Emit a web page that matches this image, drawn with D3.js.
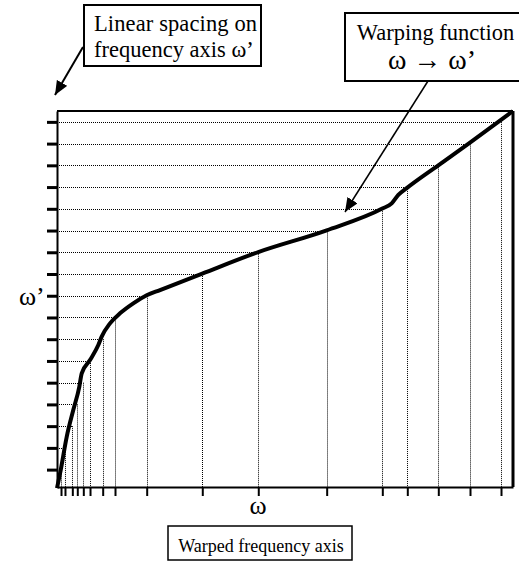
<!DOCTYPE html>
<html>
<head>
<meta charset="utf-8">
<script src="https://cdn.jsdelivr.net/npm/d3@7"></script>
<style>
  html, body { margin: 0; padding: 0; background: #fff; }
  svg { display: block; }
  text { font-family: "Liberation Serif", "Times New Roman", serif; fill: #000; }
</style>
</head>
<body>
<svg id="chart" width="519" height="564"></svg>
<script>
// ---- data ----
// linear levels on the ω' axis
const omegaPrimeLevels = [0, 1, 2, 3, 4, 5, 6, 7, 8, 9, 10, 11, 12, 13, 14, 15, 16];
// where each level lands on the warped ω axis
const warpedTicks = [0.88, 1.75, 3.36, 4.45, 5.77, 7.24, 10.02, 12.72, 19.67, 31.86, 44.14, 59.14, 71.34, 76.82, 83.62, 90.57, 97.37];
// warping function ω -> ω'
const curveOmega      = [0, 0.81, 2.13, 3.57, 4.89, 5.42, 7.24, 9.06, 9.80, 11.62, 13.82, 16.73, 19.67, 22.59, 31.86, 44.14, 59.14, 71.34, 73.40, 74.85, 76.69, 83.62, 90.57, 100];
const curveOmegaPrime = [-0.85, -0.02, 1.51, 2.74, 3.81, 4.43, 5.04, 5.73, 6.12, 6.73, 7.19, 7.65, 8.02, 8.26, 9.02, 10.01, 11.01, 12.01, 12.25, 12.64, 12.95, 14.0, 15.05, 16.5];
const omegaDomain = [0, 100];
const omegaPrimeDomain = [-0.8, 16.5];
const labels = {
  yAxis: "ω’",
  xAxis: "ω",
  linearBox: ["Linear spacing on", "frequency axis ω’"],
  warpBox: ["Warping function", "ω → ω’"],
  warpedBox: "Warped frequency axis"
};

// ---- drawing ----
const svg = d3.select("#chart");
const x = d3.scaleLinear().domain(omegaDomain).range([57, 513]);
const y = d3.scaleLinear().domain(omegaPrimeDomain).range([487, 111]);
const [x0, x1] = x.range();
const [y0, y1] = y.range();

const defs = svg.append("defs");
defs.append("marker")
  .attr("id", "arrow").attr("viewBox", "0 0 14 12")
  .attr("refX", 14).attr("refY", 6)
  .attr("markerWidth", 14).attr("markerHeight", 12)
  .attr("markerUnits", "userSpaceOnUse")
  .attr("orient", "auto")
  .append("path").attr("d", "M0,0 L14,6 L0,12 Z").attr("fill", "#000");

// dotted guides
const guides = svg.append("g").attr("stroke", "#000").attr("stroke-width", 1).attr("stroke-dasharray", "1,1");
omegaPrimeLevels.forEach((lv, i) => {
  guides.append("line")
    .attr("x1", x0).attr("x2", x(warpedTicks[i]))
    .attr("y1", Math.round(y(lv)) + 0.5).attr("y2", Math.round(y(lv)) + 0.5);
  guides.append("line")
    .attr("x1", Math.round(x(warpedTicks[i])) + 0.5).attr("x2", Math.round(x(warpedTicks[i])) + 0.5)
    .attr("y1", y(lv)).attr("y2", y0);
});

// frame (top + right)
svg.append("line").attr("x1", x0).attr("x2", x1).attr("y1", y1).attr("y2", y1)
  .attr("stroke", "#000").attr("stroke-width", 2);
svg.append("line").attr("x1", x1).attr("x2", x1).attr("y1", y1).attr("y2", y0)
  .attr("stroke", "#000").attr("stroke-width", 3);

// axes
const yAxis = d3.axisLeft(y).tickValues(omegaPrimeLevels).tickSize(10).tickSizeOuter(0).tickFormat("");
const gy = svg.append("g").attr("transform", `translate(${x0},0)`).call(yAxis);
gy.select(".domain").attr("stroke-width", 2);
gy.selectAll(".tick line").attr("stroke-width", 3);

const xAxis = d3.axisBottom(x).tickValues(warpedTicks).tickSize(9).tickSizeOuter(0).tickFormat("");
const gx = svg.append("g").attr("transform", `translate(0,${y0})`).call(xAxis);
gx.select(".domain").attr("stroke-width", 2);
gx.selectAll(".tick line").attr("stroke-width", 2);

// warping curve
const pts = curveOmega.map((w, i) => [w, curveOmegaPrime[i]]);
svg.append("path")
  .datum(pts)
  .attr("fill", "none").attr("stroke", "#000").attr("stroke-width", 4)
  .attr("stroke-linejoin", "round").attr("stroke-linecap", "butt")
  .attr("d", d3.line().x(d => x(d[0])).y(d => y(d[1])).curve(d3.curveMonotoneX));

// axis labels
svg.append("text").attr("x", 19).attr("y", 305).attr("font-size", 26).text(labels.yAxis);
svg.append("text").attr("x", 258).attr("y", 514).attr("text-anchor", "middle").attr("font-size", 26).text(labels.xAxis);

// linear spacing box
svg.append("rect").attr("x", 84).attr("y", 5).attr("width", 177).attr("height", 61)
  .attr("fill", "#fff").attr("stroke", "#000").attr("stroke-width", 2);
svg.append("text").attr("x", 94).attr("y", 31).attr("font-size", 22.5).attr("textLength", 163).text(labels.linearBox[0]);
svg.append("text").attr("x", 94).attr("y", 57).attr("font-size", 22.5).text(labels.linearBox[1]);
svg.append("line").attr("x1", 83).attr("y1", 47).attr("x2", 55).attr("y2", 95)
  .attr("stroke", "#000").attr("stroke-width", 2).attr("marker-end", "url(#arrow)");

// warping function box
svg.append("rect").attr("x", 345).attr("y", 13).attr("width", 185).attr("height", 68)
  .attr("fill", "#fff").attr("stroke", "#000").attr("stroke-width", 2);
svg.append("text").attr("x", 435.5).attr("y", 40).attr("text-anchor", "middle").attr("font-size", 22.5).text(labels.warpBox[0]);
svg.append("text").attr("x", 432).attr("y", 69).attr("text-anchor", "middle").attr("font-size", 28).text(labels.warpBox[1]);
svg.append("line").attr("x1", 428).attr("y1", 81).attr("x2", 345).attr("y2", 212)
  .attr("stroke", "#000").attr("stroke-width", 1.5).attr("marker-end", "url(#arrow)");

// warped axis box
svg.append("rect").attr("x", 168).attr("y", 526).attr("width", 184).attr("height", 34)
  .attr("fill", "#fff").attr("stroke", "#000").attr("stroke-width", 1.5);
svg.append("text").attr("x", 261).attr("y", 552).attr("text-anchor", "middle").attr("font-size", 18).text(labels.warpedBox);
</script>
</body>
</html>
